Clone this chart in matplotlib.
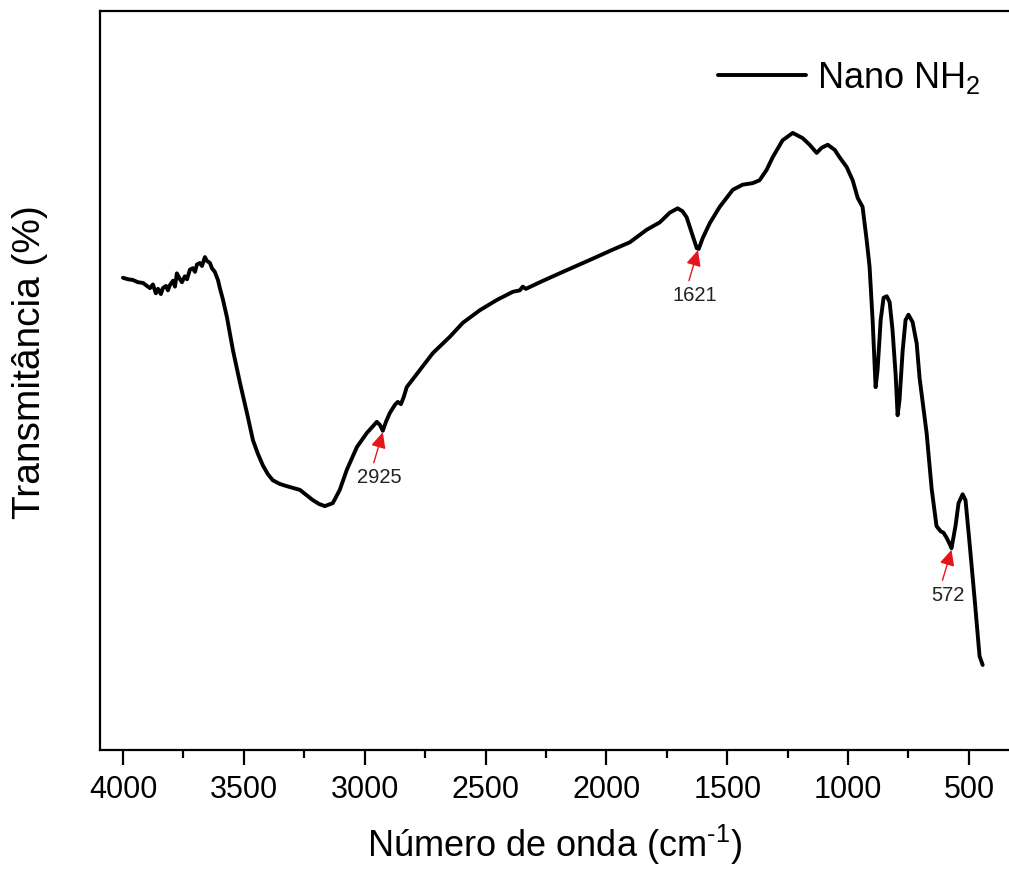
import numpy as np
import matplotlib
matplotlib.use("Agg")
import matplotlib.pyplot as plt

plt.rcParams['font.family'] = ['Liberation Sans', 'DejaVu Sans']
plt.rcParams['mathtext.default'] = 'regular'

# FTIR spectrum (wavenumber in cm-1, transmittance in arbitrary %)
wavenumber = [4000, 3979, 3959, 3938, 3917, 3901, 3888, 3876, 3864, 3855,
              3843, 3835, 3822, 3814, 3806, 3793, 3785, 3777, 3764, 3756,
              3744, 3735, 3723, 3711, 3702, 3694, 3682, 3673, 3661, 3653,
              3640, 3632, 3620, 3607, 3599, 3586, 3570, 3545, 3516, 3487,
              3462, 3442, 3421, 3400, 3380, 3351, 3322, 3268, 3214, 3189,
              3165, 3132, 3103, 3074, 3032, 2991, 2966, 2950, 2937, 2925,
              2912, 2896, 2875, 2863, 2850, 2838, 2826, 2772, 2718, 2648,
              2594, 2524, 2453, 2387, 2358, 2346, 2333, 2275, 2180, 2069,
              1974, 1903, 1833, 1779, 1738, 1705, 1685, 1668, 1647, 1626,
              1618, 1601, 1572, 1531, 1477, 1436, 1395, 1366, 1337, 1312,
              1271, 1229, 1188, 1159, 1130, 1109, 1084, 1055, 1035, 1006,
              981, 960, 940, 923, 911, 898, 890, 886, 878, 865,
              853, 840, 828, 816, 803, 795, 787, 774, 762, 750,
              733, 716, 704, 675, 654, 634, 617, 605, 592, 580,
              572, 555, 543, 526, 514, 497, 476, 456, 443]
transmittance = [63.9, 63.7, 63.6, 63.3, 63.2, 62.8, 62.5, 63.0, 61.8, 62.4,
                 61.7, 62.5, 62.8, 62.2, 62.9, 63.5, 62.7, 64.5, 63.7, 63.3,
                 64.1, 63.7, 65.0, 65.2, 64.7, 65.7, 65.9, 65.5, 66.7, 66.2,
                 65.9, 65.2, 64.7, 63.6, 62.5, 60.9, 58.6, 54.1, 49.7, 45.6,
                 41.9, 40.1, 38.5, 37.3, 36.5, 36.0, 35.7, 35.2, 33.8, 33.3,
                 33.0, 33.4, 35.2, 37.9, 41.0, 42.9, 43.8, 44.4, 44.0, 43.2,
                 44.4, 45.6, 46.7, 47.1, 46.8, 47.8, 49.1, 51.4, 53.7, 55.9,
                 57.8, 59.5, 60.9, 62.0, 62.2, 62.7, 62.4, 63.3, 64.7, 66.3,
                 67.7, 68.7, 70.4, 71.4, 72.7, 73.3, 72.9, 72.1, 70.0, 67.9,
                 67.8, 69.3, 71.3, 73.5, 75.8, 76.5, 76.7, 77.1, 78.5, 80.2,
                 82.5, 83.5, 82.8, 81.9, 80.8, 81.5, 81.9, 81.2, 80.2, 78.9,
                 77.1, 74.7, 73.5, 69.0, 65.4, 57.9, 52.1, 49.1, 51.4, 58.2,
                 61.2, 61.4, 60.6, 56.8, 50.7, 45.3, 47.4, 54.1, 58.2, 58.9,
                 57.9, 55.0, 50.3, 42.9, 35.3, 30.3, 29.6, 29.4, 28.7, 27.9,
                 27.3, 30.4, 33.4, 34.6, 33.8, 27.9, 20.3, 12.7, 11.5]

peak_labels = ["2925", "1621", "572"]
peak_positions = [2925, 1621, 572]

x_ticks = [4000, 3500, 3000, 2500, 2000, 1500, 1000, 500]
legend_label = "Nano NH$_2$"

fig = plt.figure(figsize=(10.09, 8.69), dpi=100)
W, H = 1009, 869
ax = fig.add_axes([100 / W, (H - 750) / H, 910 / W, 739 / H])

ax.plot(wavenumber, transmittance, color='black', lw=2.8, label=legend_label,
        solid_joinstyle='round', solid_capstyle='round')

ax.set_xlim(4095, 330)
ax.set_ylim(0, 100)
ax.set_xticks(x_ticks)
ax.set_xticks(np.arange(3750, 300, -500), minor=True)
ax.set_yticks([])
ax.tick_params(axis='x', which='major', direction='out', length=11, width=1.6,
               labelsize=22, pad=7)
ax.tick_params(axis='x', which='minor', direction='out', length=6, width=1.6)
for s in ax.spines.values():
    s.set_linewidth(1.6)

ax.set_xlabel("Número de onda (cm$^{\u2010 1}$)", fontsize=26, labelpad=13)
ax.set_ylabel("Transmitância (%)", fontsize=28)
ax.yaxis.set_label_coords(-0.057, 0.525)

# annotations
for lab, pos in zip(peak_labels, peak_positions):
    yv = np.interp(pos, wavenumber[::-1], transmittance[::-1])
    ax.annotate('', xy=(pos, yv - 0.2), xycoords='data',
                xytext=(-6.5, -22), textcoords='offset points',
                arrowprops=dict(arrowstyle='-|>,head_length=0.95,head_width=0.45',
                                color='#e8141c', lw=1.0, shrinkA=0, shrinkB=0))
    ax.annotate(lab, xy=(pos, yv), xycoords='data',
                xytext=(-2.5, -34), textcoords='offset points',
                ha='center', va='center', fontsize=14.5, color='#222222')

leg = ax.legend(loc='center left', bbox_to_anchor=(718 / W, 1 - 78 / H),
                bbox_transform=fig.transFigure, frameon=False, fontsize=26,
                handlelength=2.45, handletextpad=0.3, borderpad=0,
                borderaxespad=0)
for line in leg.get_lines():
    line.set_linewidth(2.8)

fig.savefig("out.png", dpi=100)
